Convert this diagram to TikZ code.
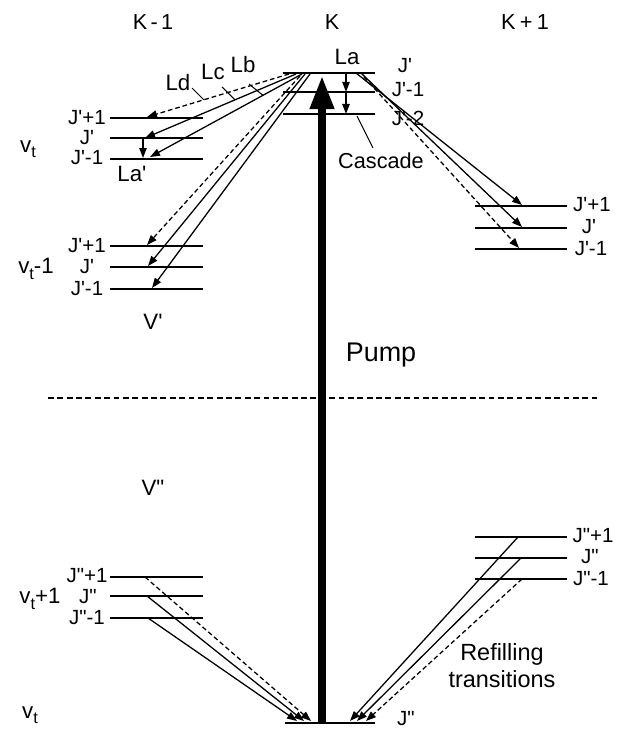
\documentclass[tikz,border=0pt]{standalone}
\usepackage{fontspec}
\newfontfamily\lab{Liberation Sans}
\usetikzlibrary{arrows.meta}
\newcommand\vsub[1]{v\raisebox{-0.45ex}{\fontsize{14}{16}\selectfont #1}}
\begin{document}
\begin{tikzpicture}[x=0.03cm,y=-0.03cm,
  txt/.style={font=\lab\fontsize{19}{22}\selectfont, inner sep=0pt},
  jl/.style={font=\lab\fontsize{17.5}{20}\selectfont, inner sep=0pt},
  big/.style={font=\lab\fontsize{18.5}{22}\selectfont, inner sep=0pt},
  lvl/.style={line width=1.8pt},
  tr/.style={line width=1.1pt, -{Triangle[length=3mm,width=2.2mm]}},
  trd/.style={tr, dash pattern=on 4pt off 2.5pt},
  lead/.style={line width=0.9pt}]
\useasboundingbox (0,0) rectangle (618,731);

% column titles
\node[big] (km) at (153,22) {K\hspace{0.15em}-\hspace{0.15em}1};
\node[big] (k0) at (332,22) {K};
\node[big] (kp) at (525,22) {K\hspace{0.2em}+\hspace{0.2em}1};

% ---- upper state, K ----
\draw[lvl] (283,73) -- (375,73);
\draw[lvl] (283,92) -- (375,92);
\draw[lvl] (283,114) -- (375,114);
\node[txt] (La) at (347,57) {La};
\node[jl] (kJ0) at (405,66) {J'};
\node[jl] (kJ1) at (408,90) {J'-1};
\node[jl] (kJ2) at (408,118) {J'-2};
\coordinate (c0) at (346,73);
\coordinate (c1) at (346,92);
\coordinate (c2) at (346,114);
\draw[tr] (c0) -- (c1);
\draw[tr] (c1) -- (c2);
\node[big] (casc) at (381,161) {Cascade};
\coordinate (cl1) at (373,148);
\coordinate (cl2) at (357,116);
\draw[lead] (cl1) -- (cl2);

% ---- upper state, K-1 ----
\draw[lvl] (110,118) -- (203,118);
\draw[lvl] (110,138) -- (203,138);
\draw[lvl] (110,159) -- (203,159);
\node[jl] (l1a) at (87,118) {J'+1};
\node[jl] (l1b) at (87,138) {J'};
\node[jl] (l1c) at (87,158) {J'-1};
\node[txt] (vt1) at (28,149) {\vsub{t}};
\draw[lvl] (110,246) -- (203,246);
\draw[lvl] (110,267) -- (203,267);
\draw[lvl] (110,289) -- (203,289);
\node[jl] (l2a) at (87,246) {J'+1};
\node[jl] (l2b) at (87,267) {J'};
\node[jl] (l2c) at (87,289) {J'-1};
\node[txt] (vt2) at (36,269) {\vsub{t}-1};
\node[txt] (Lap) at (132,174) {La'};
\node[txt] (Vp) at (153,322) {V'};

\coordinate (sLd) at (289,74); \coordinate (eLd) at (147,117);
\coordinate (sLc) at (296,74); \coordinate (eLc) at (145,138);
\coordinate (sLb) at (302,74); \coordinate (eLb) at (150,157);
\draw[trd] (sLd) -- coordinate[pos=0.6] (pLd) (eLd);
\draw[tr] (sLc) -- coordinate[pos=0.404] (pLc) (eLc);
\draw[tr] (sLb) -- coordinate[pos=0.257] (pLb) (eLb);
\node[txt] (Ld) at (178,83) {Ld};
\node[txt] (Lc) at (213,72) {Lc};
\node[txt] (Lb) at (243,65) {Lb};
\coordinate (qLd) at (192,88);
\coordinate (qLc) at (222,87);
\coordinate (qLb) at (249,84);
\draw[lead] (qLd) -- (pLd);
\draw[lead] (qLc) -- (pLc);
\draw[lead] (qLb) -- (pLb);
\coordinate (sLa) at (143,138); \coordinate (eLa) at (143,158);
\draw[tr] (sLa) -- (eLa);

\coordinate (s4) at (300,76); \coordinate (e4) at (147,245);
\coordinate (s5) at (305,74); \coordinate (e5) at (148,266);
\coordinate (s6) at (310,74); \coordinate (e6) at (152,288);
\draw[trd] (s4) -- (e4);
\draw[tr] (s5) -- (e5);
\draw[tr] (s6) -- (e6);

% ---- upper state, K+1 ----
\draw[lvl] (475,206) -- (567,206);
\draw[lvl] (475,228) -- (567,228);
\draw[lvl] (475,249) -- (567,249);
\node[jl] (r1a) at (592,205) {J'+1};
\node[jl] (r1b) at (589,227) {J'};
\node[jl] (r1c) at (591,249) {J'-1};
\coordinate (s7) at (356,73); \coordinate (e7) at (522,205);
\coordinate (s8) at (361,73); \coordinate (e8) at (522,227);
\coordinate (s9) at (364,77); \coordinate (e9) at (519,248);
\draw[tr] (s7) -- (e7);
\draw[tr] (s8) -- (e8);
\draw[trd] (s9) -- (e9);

% ---- divider ----
\coordinate (dl) at (48,398); \coordinate (dr) at (597,398);
\draw[line width=1.1pt, dash pattern=on 5pt off 3pt] (dl) -- (dr);
\node[font=\lab\fontsize{23}{26}\selectfont, inner sep=0pt] (pump) at (381,355) {Pump};
\node[txt] (Vpp) at (153,488) {V"};

% ---- lower state ----
\draw[lvl] (110,577) -- (203,577);
\draw[lvl] (110,596) -- (203,596);
\draw[lvl] (110,618) -- (203,618);
\node[jl] (b1a) at (87,576) {J"+1};
\node[jl] (b1b) at (88,597) {J"};
\node[jl] (b1c) at (87,618) {J"-1};
\node[txt] (vt3) at (40,599) {\vsub{t}+1};
\node[txt] (vt4) at (30,715) {\vsub{t}};

\draw[lvl] (475,537) -- (567,537);
\draw[lvl] (475,558) -- (567,558);
\draw[lvl] (475,579) -- (567,579);
\node[jl] (b2a) at (593,536) {J"+1};
\node[jl] (b2b) at (590,557) {J"};
\node[jl] (b2c) at (591,579) {J"-1};

\draw[lvl] (285,723) -- (375,723);
\node[jl] (bJ) at (406,719) {J"};

\coordinate (u1) at (145,577); \coordinate (v1) at (311,721);
\coordinate (u2) at (147,596); \coordinate (v2) at (304,721);
\coordinate (u3) at (148,618); \coordinate (v3) at (297,721);
\draw[trd] (u1) -- (v1);
\draw[tr] (u2) -- (v2);
\draw[tr] (u3) -- (v3);
\coordinate (u4) at (518,537); \coordinate (v4) at (350,721);
\coordinate (u5) at (521,558); \coordinate (v5) at (357,721);
\coordinate (u6) at (522,579); \coordinate (v6) at (366,721);
\draw[tr] (u4) -- (v4);
\draw[tr] (u5) -- (v5);
\draw[trd] (u6) -- (v6);
\node[font=\lab\fontsize{20}{23}\selectfont, inner sep=0pt, align=center] (refill) at (502,666) {Refilling\\transitions};

% ---- pump ----
\coordinate (pb) at (322,723);
\coordinate (pt) at (322,76);
\draw[line width=6pt, -{Triangle[length=0.99cm 0 0,width=0.69cm 0 0]}] (pb) -- (pt);
\end{tikzpicture}
\end{document}
